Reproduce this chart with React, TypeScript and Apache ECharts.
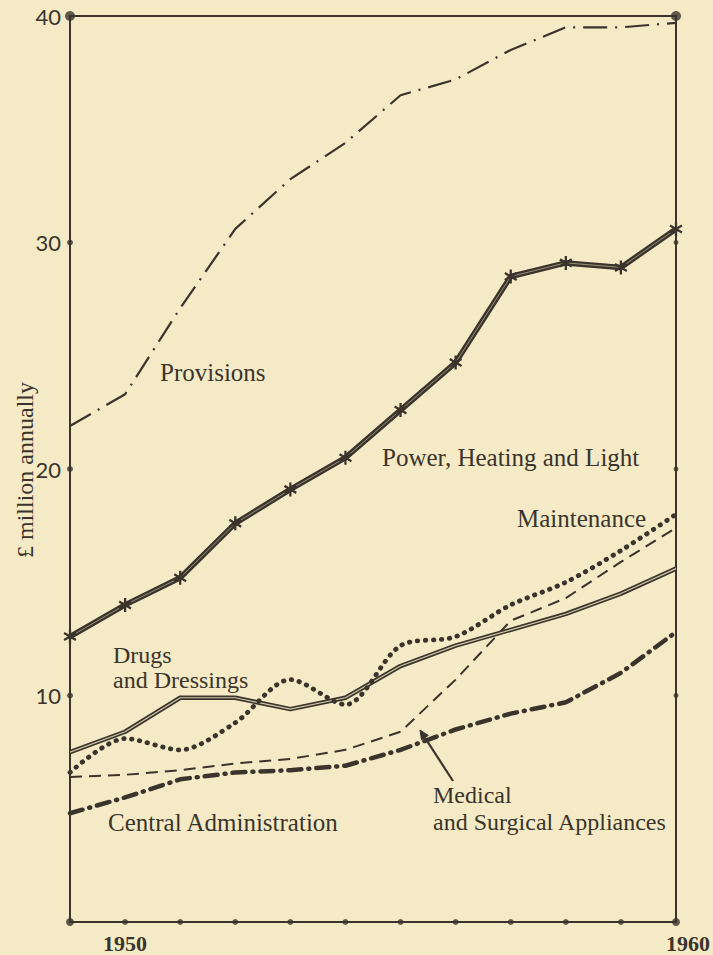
import React, { useEffect, useRef } from "react";
import * as echarts from "echarts";

const years = [1949, 1950, 1951, 1952, 1953, 1954, 1955, 1956, 1957, 1958, 1959, 1960];
const provisions = [21.9, 23.3, 27.1, 30.6, 32.8, 34.4, 36.5, 37.2, 38.5, 39.5, 39.5, 39.7];
const power = [12.6, 14.0, 15.2, 17.6, 19.1, 20.5, 22.6, 24.7, 28.5, 29.1, 28.9, 30.6];
const maintenance = [6.6, 8.1, 7.6, 8.8, 10.7, 9.6, 12.2, 12.6, 14.0, 15.0, 16.4, 18.0];
const drugs = [7.5, 8.4, 9.9, 9.9, 9.4, 9.9, 11.3, 12.2, 12.9, 13.6, 14.5, 15.6];
const medical = [6.4, 6.5, 6.7, 7.0, 7.2, 7.6, 8.4, 10.7, 13.3, 14.3, 15.9, 17.4];
const central = [4.8, 5.5, 6.3, 6.6, 6.7, 6.9, 7.6, 8.5, 9.2, 9.7, 11.0, 12.8];
const yTicks = [10, 20, 30, 40];
const xLabels = [1950, 1960];

const INK = "#3a342c";
const PAPER = "#f4ebc6";
const SERIF = "'Liberation Serif', 'DejaVu Serif', serif";

const STAR =
  "path://M-1,-6L1,-6L1,6L-1,6Z M-5.696,-2.134L-4.696,-3.866L5.696,2.134L4.696,3.866Z M4.696,-3.866L5.696,-2.134L-4.696,3.866L-5.696,2.134Z";

const pts = (vals: number[]) => years.map((y, i) => [y, vals[i]]);

export default function App() {
  const ref = useRef<HTMLDivElement>(null);
  useEffect(() => {
    document.body.style.margin = "0";
    document.body.style.background = PAPER;
    const chart = echarts.init(ref.current!, undefined, { renderer: "svg" });

    const axisDots: any[] = [];
    years.forEach((y) => axisDots.push({ value: [y, 0], symbolSize: y === 1949 || y === 1960 ? 8 : 6 }));
    yTicks.forEach((t) => axisDots.push({ value: [1949, t], symbolSize: t === 40 ? 10 : 6 }));
    yTicks.forEach((t) => axisDots.push({ value: [1960, t], symbolSize: t === 40 ? 10 : 5 }));

    const textStyle = (text: string, x: number, y: number, extra: any = {}) => ({
      type: "text",
      x,
      y,
      style: { text, fill: INK, font: `25px ${SERIF}`, verticalAlign: "middle", ...extra },
      z: 10,
    });

    chart.setOption({
      animation: false,
      backgroundColor: PAPER,
      grid: {
        left: 70,
        right: 23,
        top: 16,
        bottom: 33,
        show: true,
        borderColor: INK,
        borderWidth: 2,
        backgroundColor: "transparent",
      },
      xAxis: {
        type: "value",
        min: 1949,
        max: 1960,
        interval: 1,
        axisLine: { show: false },
        axisTick: { show: false },
        splitLine: { show: false },
        axisLabel: {
          margin: 10,
          color: INK,
          fontFamily: SERIF,
          fontWeight: "bold",
          fontSize: 22,
          formatter: (v: number) => (xLabels.includes(v) ? (v === 1960 ? `{r|${v}}` : `${v}`) : ""),
          rich: { r: { padding: [0, 0, 0, 24], fontFamily: SERIF, fontWeight: "bold", fontSize: 22, color: INK } },
        },
      },
      yAxis: {
        type: "value",
        min: 0,
        max: 40,
        interval: 10,
        axisLine: { show: false },
        axisTick: { show: false },
        splitLine: { show: false },
        axisLabel: {
          margin: 9,
          color: INK,
          fontFamily: "Lato, 'Open Sans', sans-serif",
          fontSize: 22,
          formatter: (v: number) => (yTicks.includes(v) ? String(v) : ""),
        },
      },
      graphic: [
        {
          type: "text",
          x: 25,
          y: 470,
          rotation: Math.PI / 2,
          style: { text: "£ million annually", fill: INK, font: `24px ${SERIF}`, align: "center", verticalAlign: "middle" },
        },
        textStyle("Provisions", 160, 372),
        textStyle("Power, Heating and Light", 382, 457),
        textStyle("Maintenance", 517, 518),
        textStyle("Drugs\nand Dressings", 113, 667, { lineHeight: 25, font: `24px ${SERIF}` }),
        textStyle("Central Administration", 108, 822),
        textStyle("Medical\nand Surgical Appliances", 433, 808, { lineHeight: 27, font: `24px ${SERIF}` }),
        {
          type: "line",
          shape: { x1: 453, y1: 781, x2: 424.9, y2: 737.6 },
          style: { stroke: INK, lineWidth: 2.2 },
          z: 10,
        },
        {
          type: "polygon",
          shape: { points: [[420, 730], [428.3, 735.4], [421.5, 739.8]] },
          style: { fill: INK, stroke: INK, lineWidth: 1 },
          z: 10,
        },
      ],
      series: [
        {
          name: "Provisions",
          type: "line",
          data: pts(provisions),
          symbol: "none",
          lineStyle: { color: INK, width: 2.2, type: [24, 8, 2, 8] },
        },
        {
          name: "Central Administration",
          type: "line",
          data: pts(central),
          symbol: "none",
          lineStyle: { color: INK, width: 4.5, type: [13, 7, 1, 7], cap: "round" },
        },
        {
          name: "Medical and Surgical Appliances",
          type: "line",
          data: pts(medical),
          symbol: "none",
          lineStyle: { color: INK, width: 2, type: [12, 7] },
        },
        {
          name: "Drugs and Dressings",
          type: "line",
          data: pts(drugs),
          symbol: "none",
          lineStyle: { color: INK, width: 4.5 },
        },
        {
          name: "Drugs inner",
          type: "line",
          data: pts(drugs),
          symbol: "none",
          lineStyle: { color: "#cfc5a4", width: 1.2 },
        },
        {
          name: "Maintenance",
          type: "line",
          data: pts(maintenance),
          symbol: "none",
          smooth: 0.3,
          lineStyle: { color: INK, width: 4.8, type: [0.5, 7.5], cap: "round" },
        },
        {
          name: "Power, Heating and Light",
          type: "line",
          data: pts(power),
          symbol: "none",
          lineStyle: { color: INK, width: 5.5 },
        },
        {
          name: "Power inner",
          type: "line",
          data: pts(power),
          symbol: STAR,
          symbolSize: [13, 14],
          itemStyle: { color: INK },
          lineStyle: { color: "#9a9078", width: 1 },
          z: 3,
        },
        {
          name: "axis dots",
          type: "scatter",
          data: axisDots,
          symbol: "circle",
          itemStyle: { color: INK },
          clip: false,
          z: 5,
        },
      ],
    });
    return () => chart.dispose();
  }, []);
  return <div ref={ref} style={{ position: "fixed", left: 0, top: 0, width: 713, height: 955, background: PAPER }} />;
}
